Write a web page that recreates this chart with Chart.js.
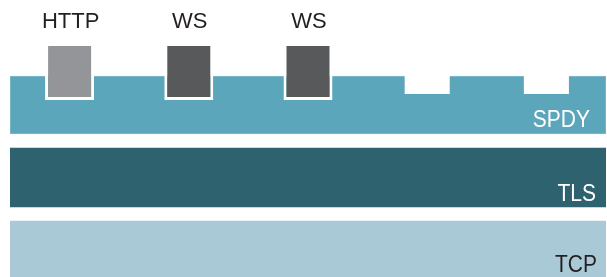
<!DOCTYPE html>
<html>
<head>
<meta charset="utf-8">
<script src="https://cdn.jsdelivr.net/npm/chart.js@4/dist/chart.umd.min.js"></script>
<style>
  html, body { margin: 0; padding: 0; background: #ffffff; }
  #wrap { width: 607px; height: 277px; }
</style>
</head>
<body>
<div id="wrap"><canvas id="c" width="607" height="277"></canvas></div>
<script>
// ---- data ----
const layerNames = ['TCP', 'TLS', 'SPDY'];
const layerLow   = [0, 70, 143];
const layerHigh  = [56, 129, 201];

const streamLabels = ['HTTP', 'WS', 'WS', '', ''];
const streamLow    = [177, 177, 177, null, null];
const streamHigh   = [232, 232, 232, null, null];

const idleLow  = [null, null, null, 183, 183];
const idleHigh = [null, null, null, 203, 203];

// ---- styles ----
const layerColors     = ['#a9c9d6', '#2e626f', '#5ca6bb'];
const layerTextColors = ['#231f20', '#ffffff', '#ffffff'];
const layerBorder     = ['rgba(0,0,0,0)', 'rgba(0,0,0,0)', '#84bccc'];
const streamColors    = ['#939598', '#58595b', '#58595b', '#ffffff', '#ffffff'];

const pairs = (lo, hi) => lo.map((v, i) => (v === null ? null : [v, hi[i]]));

const layerDatasets = layerNames.map((name, i) => ({
  label: name,
  data: [[layerLow[i], layerHigh[i]]],
  xAxisID: 'xLayer',
  backgroundColor: layerColors[i],
  borderColor: layerBorder[i],
  borderWidth: i === 2 ? 1 : 0,
  borderSkipped: false,
  grouped: false,
  barPercentage: 1,
  categoryPercentage: 1,
  order: 2
}));

const labelPlugin = {
  id: 'diagramLabels',
  afterDatasetsDraw(chart) {
    const ctx = chart.ctx;
    const x = chart.scales.x, y = chart.scales.y;
    const area = chart.chartArea;
    ctx.save();
    ctx.textBaseline = 'alphabetic';
    // stream labels above the boxes
    ctx.font = '22px "Liberation Sans", Arial, sans-serif';
    ctx.fillStyle = '#231f20';
    ctx.textAlign = 'center';
    streamLabels.forEach((t, i) => {
      if (!t || streamHigh[i] === null) return;
      ctx.fillText(t, x.getPixelForValue(i) + 1, y.getPixelForValue(streamHigh[i]) - 17);
    });
    // layer labels, right aligned near bottom of each band (slightly tall glyphs)
    ctx.font = '21px "Liberation Sans", Arial, sans-serif';
    ctx.textAlign = 'right';
    const inset = [9, 10, 16];
    const lift  = [5.5, 6, 7.5];
    const stretch = 1.14;
    layerNames.forEach((t, i) => {
      ctx.save();
      ctx.fillStyle = layerTextColors[i];
      const bx = area.right - inset[i];
      const by = y.getPixelForValue(layerLow[i]) - lift[i];
      ctx.translate(bx, by);
      ctx.scale(1, stretch);
      ctx.fillText(t, 0, 0);
      ctx.restore();
    });
    ctx.restore();
  }
};

new Chart(document.getElementById('c'), {
  type: 'bar',
  data: {
    labels: streamLabels,
    datasets: [
      ...layerDatasets,
      {
        label: 'idle',
        data: pairs(idleLow, idleHigh),
        xAxisID: 'x',
        backgroundColor: '#ffffff',
        borderWidth: 0,
        grouped: false,
        barPercentage: 0.378,
        categoryPercentage: 1,
        order: 1
      },
      {
        label: 'streams',
        data: pairs(streamLow, streamHigh),
        xAxisID: 'x',
        backgroundColor: streamColors,
        borderColor: '#ffffff',
        borderWidth: { left: 3, right: 3, bottom: 3, top: 1 },
        borderSkipped: false,
        grouped: false,
        barPercentage: 0.411,
        categoryPercentage: 1,
        order: 0
      }
    ]
  },
  options: {
    responsive: false,
    devicePixelRatio: 1,
    animation: false,
    layout: { padding: { left: 10, right: 1, top: 0, bottom: 0 } },
    plugins: { legend: { display: false }, tooltip: { enabled: false } },
    scales: {
      x: { type: 'category', display: false, offset: true },
      xLayer: { type: 'category', labels: ['stack'], display: false, offset: true },
      y: { type: 'linear', min: 0, max: 277, display: false }
    }
  },
  plugins: [labelPlugin]
});
</script>
</body>
</html>
